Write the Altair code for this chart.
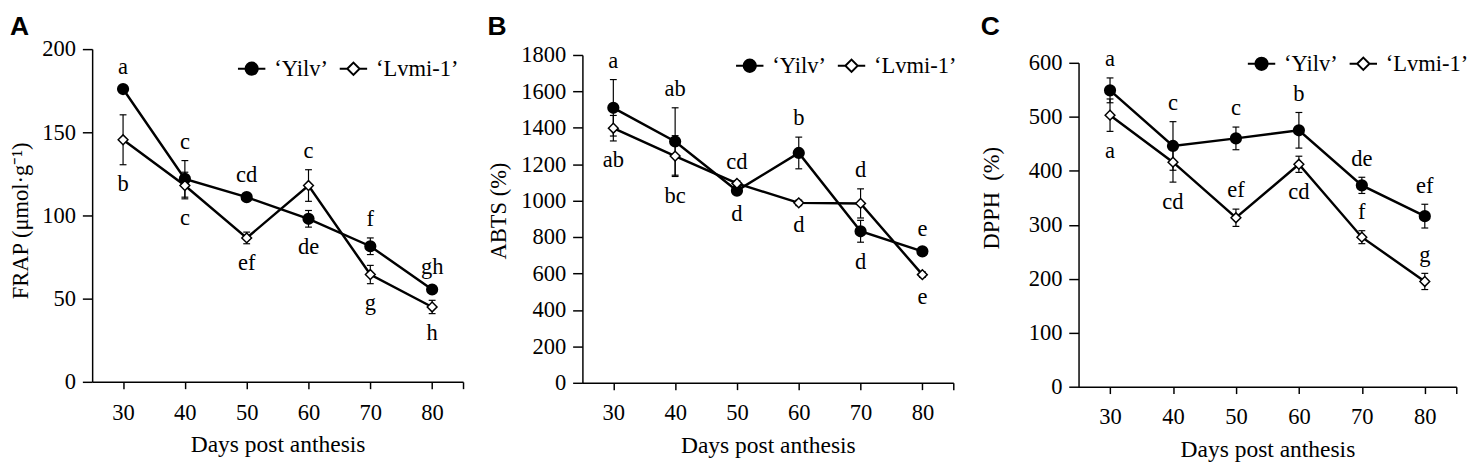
import altair as alt
import pandas as pd

DAYS = [30, 40, 50, 60, 70, 80]
SERIES = ["‘Yilv’", "‘Lvmi-1’"]

# Panel A: FRAP
FRAP_YILV = [176, 122, 111, 98, 81.5, 55.5]
FRAP_YILV_ERR = [2, 11, 2, 5, 5, 2]
FRAP_YILV_LETTERS = ["a", "c", "cd", "de", "f", "gh"]
FRAP_YILV_SIDE = ["up", "up", "up", "down", "up", "up"]
FRAP_LVMI = [145.5, 118, 86.5, 118, 64.5, 45]
FRAP_LVMI_ERR = [15, 8, 3.5, 9.5, 5.5, 4]
FRAP_LVMI_LETTERS = ["b", "c", "ef", "c", "g", "h"]
FRAP_LVMI_SIDE = ["down", "down", "down", "up", "down", "down"]

# Panel B: ABTS
ABTS_YILV = [1510, 1325, 1055, 1262, 832, 722]
ABTS_YILV_ERR = [155, 185, 20, 87, 60, 20]
ABTS_YILV_LETTERS = ["a", "ab", "d", "b", "d", "e"]
ABTS_YILV_SIDE = ["up", "up", "down", "up", "down", "up"]
ABTS_LVMI = [1398, 1245, 1095, 988, 985, 594]
ABTS_LVMI_ERR = [70, 112, 15, 15, 80, 15]
ABTS_LVMI_LETTERS = ["ab", "bc", "cd", "d", "d", "e"]
ABTS_LVMI_SIDE = ["down", "down", "up", "down", "up", "down"]

# Panel C: DPPH
DPPH_YILV = [549, 446, 460, 475, 373, 316]
DPPH_YILV_ERR = [23, 45, 21, 33, 15, 22]
DPPH_YILV_LETTERS = ["a", "c", "c", "b", "de", "ef"]
DPPH_YILV_SIDE = ["up", "up", "up", "up", "up", "up"]
DPPH_LVMI = [503, 416, 313, 412, 277, 195]
DPPH_LVMI_ERR = [30, 37, 16, 15, 12, 15]
DPPH_LVMI_LETTERS = ["a", "cd", "ef", "cd", "f", "g"]
DPPH_LVMI_SIDE = ["down", "down", "up", "down", "up", "up"]

X_TICKS = [30, 40, 50, 60, 70, 80, 85]

SERIF = "Liberation Serif"
FS = 23
# legend symbols: line with filled circle / line with open diamond (unit box -1..1)
SYM_CIRCLE = "M-1,0L-0.45,0M0.45,0L1,0M-0.45,0A0.45,0.45,0,1,0,0.45,0A0.45,0.45,0,1,0,-0.45,0Z"
SYM_DIAMOND = "M-1,0L-0.45,0M0.45,0L1,0M-0.45,0L0,-0.45L0.45,0L0,0.45Z"

AXIS_STYLE = dict(
    domainColor="black", tickColor="black", labelColor="black",
    titleColor="black", labelFont=SERIF, titleFont=SERIF,
    labelFontSize=FS, titleFontWeight="normal",
    grid=False, domainWidth=1.5, tickWidth=1.5,
)


def build_df(yv, ye, yl, ys, lv, le, ll, ls):
    rows = []
    for name, vals, errs, lets, sides in [
        (SERIES[0], yv, ye, yl, ys),
        (SERIES[1], lv, le, ll, ls),
    ]:
        for d, v, e, t, s in zip(DAYS, vals, errs, lets, sides):
            rows.append(dict(day=d, series=name, value=v, err=e,
                             lo=v - e, hi=v + e, letter=t, side=s))
    return pd.DataFrame(rows)


def panel(df, letter, ytitle, ymax, ystep, height, yrange,
          legend_x, legend_y, title_pad, title_y, title_off, width):
    xenc = alt.X(
        "day:Q",
        scale=alt.Scale(domain=[25, 85], nice=False, zero=False),
        axis=alt.Axis(values=X_TICKS,
                      labelExpr="datum.value == 85 ? '' : datum.label",
                      title="Days post anthesis", titleFontSize=24,
                      tickSize=7, labelPadding=13, titlePadding=9,
                      **AXIS_STYLE),
    )

    def yenc(field):
        return alt.Y(
            f"{field}:Q",
            scale=alt.Scale(domain=[0, ymax], nice=False, zero=True,
                            range=yrange),
            axis=alt.Axis(values=list(range(0, ymax + 1, ystep)),
                          format="d", title=ytitle, titleFontSize=FS,
                          titlePadding=title_pad, titleY=title_y,
                          tickSize=10, labelPadding=7, **AXIS_STYLE),
        )

    base = alt.Chart(df)

    rules = base.mark_rule(color="black", strokeWidth=1.2).encode(
        x=xenc, y=yenc("lo"), y2="hi:Q")
    caps = base.transform_fold(["lo", "hi"], as_=["which", "cap"]).mark_tick(
        color="black", thickness=1.2, size=7, orient="horizontal", opacity=1
    ).encode(x=xenc, y=yenc("cap"))
    lines = base.mark_line(color="black", strokeWidth=2.5).encode(
        x=xenc, y=yenc("value"), detail="series:N")
    pts_y = base.transform_filter(alt.datum.series == SERIES[0]).mark_point(
        shape="circle", filled=True, fill="black", stroke="black",
        size=110, opacity=1).encode(x=xenc, y=yenc("value"))
    pts_l = base.transform_filter(alt.datum.series == SERIES[1]).mark_point(
        shape="diamond", filled=True, fill="white", stroke="black",
        strokeWidth=1.5, size=100, opacity=1).encode(x=xenc, y=yenc("value"))
    txt_up = base.transform_filter(alt.datum.side == "up").mark_text(
        font=SERIF, fontSize=FS, color="black", dy=-12,
        baseline="alphabetic", align="center").encode(
        x=xenc, y=yenc("hi"), text="letter:N")
    txt_dn = base.transform_filter(alt.datum.side == "down").mark_text(
        font=SERIF, fontSize=FS, color="black", dy=27,
        baseline="alphabetic", align="center").encode(
        x=xenc, y=yenc("lo"), text="letter:N")

    leg = alt.Legend(
        orient="none", legendX=legend_x, legendY=legend_y,
        direction="horizontal", title=None,
        labelFont=SERIF, labelFontSize=FS, labelColor="black",
        symbolSize=784, symbolStrokeColor="black", symbolStrokeWidth=2,
        labelOffset=8, columnPadding=8, padding=0, symbolOpacity=1,
    )
    legend_layer = base.transform_filter("false").mark_point(
        filled=False, color="black", strokeWidth=2, opacity=1).encode(
        x=xenc, y=yenc("value"),
        shape=alt.Shape("series:N",
                        scale=alt.Scale(domain=SERIES,
                                        range=[SYM_CIRCLE, SYM_DIAMOND]),
                        legend=leg),
        fill=alt.Fill("series:N",
                      scale=alt.Scale(domain=SERIES, range=["black", "white"]),
                      legend=leg),
        stroke=alt.Stroke("series:N",
                          scale=alt.Scale(domain=SERIES,
                                          range=["black", "black"]),
                          legend=leg),
    )

    return alt.layer(rules, caps, lines, pts_y, pts_l, txt_up, txt_dn,
                     legend_layer).properties(
        width=width, height=height,
        title=alt.TitleParams(letter, anchor="start", frame="bounds",
                              font="Liberation Sans", fontSize=27,
                              fontWeight="bold", color="black",
                              offset=title_off),
    )


df_a = build_df(FRAP_YILV, FRAP_YILV_ERR, FRAP_YILV_LETTERS, FRAP_YILV_SIDE,
                FRAP_LVMI, FRAP_LVMI_ERR, FRAP_LVMI_LETTERS, FRAP_LVMI_SIDE)
df_b = build_df(ABTS_YILV, ABTS_YILV_ERR, ABTS_YILV_LETTERS, ABTS_YILV_SIDE,
                ABTS_LVMI, ABTS_LVMI_ERR, ABTS_LVMI_LETTERS, ABTS_LVMI_SIDE)
df_c = build_df(DPPH_YILV, DPPH_YILV_ERR, DPPH_YILV_LETTERS, DPPH_YILV_SIDE,
                DPPH_LVMI, DPPH_LVMI_ERR, DPPH_LVMI_LETTERS, DPPH_LVMI_SIDE)

pa = panel(df_a, "A", "FRAP (μmol·g⁻¹)", 200, 50, 340, [340, 0],
           148, 5, 9.5, 175, -3, 379)
pb = panel(df_b, "B", "ABTS (%)", 1800, 200, 341, [341, 6],
           156, 2, 11, 165, 3, 379)
pc = panel(df_c, "C", "DPPH\u2002(%)", 600, 100, 345, [345, 14],
           172, 0, 25.5, 152, 8, 386)

chart = alt.hconcat(pa, pb, pc, spacing=24).resolve_scale(
    shape="independent", fill="independent", stroke="independent",
    x="independent", y="independent"
).resolve_legend(
    shape="independent", fill="independent", stroke="independent"
).properties(
    padding={"left": 2, "top": 0, "right": 0, "bottom": 0}
).configure_view(stroke=None)

chart.save("out.html", embed_options={"renderer": "svg", "actions": False})
